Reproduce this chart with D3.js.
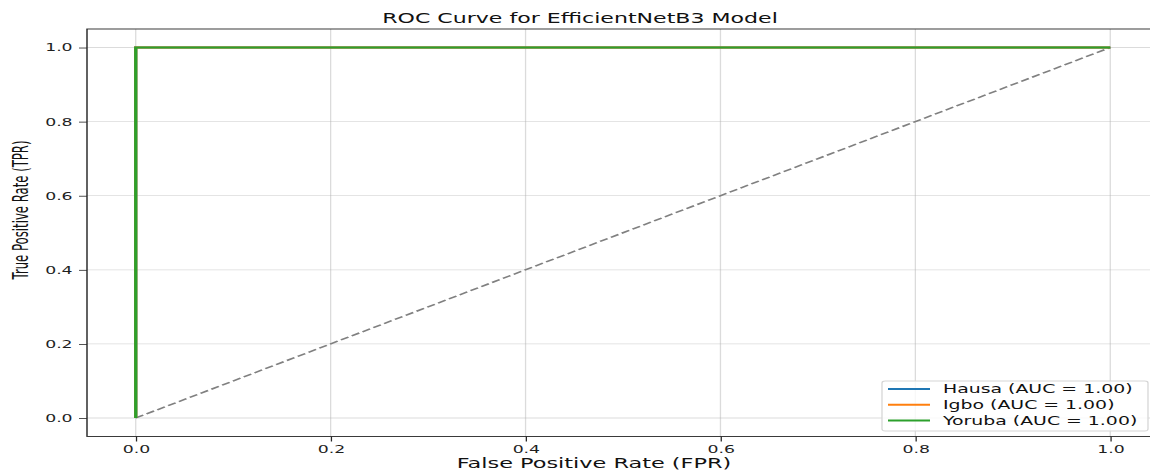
<!DOCTYPE html>
<html>
<head>
<meta charset="utf-8">
<script src="https://cdn.jsdelivr.net/npm/d3@7"></script>
<style>
  html, body { margin: 0; padding: 0; background: #fff; }
  svg { display: block; font-family: "DejaVu Sans", sans-serif; }
</style>
</head>
<body>
<div id="chart"></div>
<script>
// data
var classNames = ["Hausa", "Igbo", "Yoruba"];
var classColors = ["#1f77b4", "#ff7f0e", "#2ca02c"];
var aucValues = [1.00, 1.00, 1.00];
var fprHausa = [0, 0, 1];
var tprHausa = [0, 1, 1];
var fprIgbo = [0, 0, 1];
var tprIgbo = [0, 1, 1];
var fprYoruba = [0, 0, 1];
var tprYoruba = [0, 1, 1];
var chanceLine = [[0, 0], [1, 1]];
var xTicks = [0, 0.2, 0.4, 0.6, 0.8, 1.0];
var yTicks = [0, 0.2, 0.4, 0.6, 0.8, 1.0];

var width = 1150;
var height = 472;
// the figure looks stretched sideways, so everything is drawn in a narrower
// space and then widened
var sx = 1.6;

var curves = [
  {name: classNames[0], color: classColors[0], auc: aucValues[0], fpr: fprHausa, tpr: tprHausa},
  {name: classNames[1], color: classColors[1], auc: aucValues[1], fpr: fprIgbo, tpr: tprIgbo},
  {name: classNames[2], color: classColors[2], auc: aucValues[2], fpr: fprYoruba, tpr: tprYoruba}
];

function buildChart() {
  var svg = d3.create("svg")
      .attr("width", width)
      .attr("height", height);

  var root = svg.append("g")
      .attr("transform", "scale(" + sx + ",1)");

  var left = 87 / sx, right = 1159 / sx, top = 29, bottom = 436.5;

  var x = d3.scaleLinear().domain([-0.05, 1.05]).range([left, right]);
  var y = d3.scaleLinear().domain([-0.05, 1.05]).range([bottom, top]);

  // grid
  var grid = root.append("g")
      .attr("stroke", "#b0b0b0")
      .attr("stroke-opacity", 0.45)
      .attr("stroke-width", 0.8);
  grid.selectAll("line.gx")
    .data(xTicks)
    .join("line")
      .attr("class", "gx")
      .attr("x1", d => x(d)).attr("x2", d => x(d))
      .attr("y1", top).attr("y2", bottom);
  grid.selectAll("line.gy")
    .data(yTicks)
    .join("line")
      .attr("class", "gy")
      .attr("x1", left).attr("x2", right)
      .attr("y1", d => y(d)).attr("y2", d => y(d));

  // chance line
  var line = d3.line().x(d => x(d[0])).y(d => y(d[1]));
  root.append("path")
      .attr("d", line(chanceLine))
      .attr("fill", "none")
      .attr("stroke", "#808080")
      .attr("stroke-width", 1.5)
      .attr("stroke-dasharray", "5.5,2.4");

  // roc curves
  root.append("g")
      .attr("fill", "none")
      .attr("stroke-width", 2)
      .attr("stroke-linejoin", "miter")
    .selectAll("path")
    .data(curves)
    .join("path")
      .attr("stroke", d => d.color)
      .attr("d", d => line(d.fpr.map((v, i) => [v, d.tpr[i]])));

  // spines
  root.append("rect")
      .attr("x", left).attr("y", top)
      .attr("width", right - left).attr("height", bottom - top)
      .attr("fill", "none")
      .attr("stroke", "#262626")
      .attr("stroke-width", 0.9);

  // axes
  var xAxis = root.append("g")
      .attr("transform", "translate(0," + bottom + ")")
      .call(d3.axisBottom(x).tickValues(xTicks).tickFormat(d3.format(".1f")).tickSize(5).tickPadding(4));
  var yAxis = root.append("g")
      .attr("transform", "translate(" + left + ",0)")
      .call(d3.axisLeft(y).tickValues(yTicks).tickFormat(d3.format(".1f")).tickSize(5).tickPadding(4));
  [xAxis, yAxis].forEach(a => {
    a.select(".domain").remove();
    a.selectAll(".tick line").attr("stroke", "#262626").attr("stroke-width", 0.8);
    a.selectAll(".tick text")
        .attr("fill", "#1f1f1f")
        .style("font-family", "DejaVu Sans")
        .style("font-size", "10.8px");
  });

  // title and labels
  root.append("text")
      .attr("x", 580 / sx).attr("y", 23)
      .attr("text-anchor", "middle")
      .attr("fill", "#111")
      .style("font-size", "13.8px")
      .text("ROC Curve for EfficientNetB3 Model");

  root.append("text")
      .attr("x", 594 / sx).attr("y", 468)
      .attr("text-anchor", "middle")
      .attr("fill", "#111")
      .style("font-size", "14px")
      .text("False Positive Rate (FPR)");

  // y label looks condensed in the reference: bigger glyphs squeezed along the line
  root.append("text")
      .attr("transform", "translate(" + (27.5 / sx) + ",210) rotate(-90)")
      .attr("text-anchor", "middle")
      .attr("textLength", 139)
      .attr("lengthAdjust", "spacingAndGlyphs")
      .attr("fill", "#111")
      .style("font-size", "13.5px")
      .text("True Positive Rate (TPR)");

  // legend
  var legend = root.append("g");
  legend.append("rect")
      .attr("x", 882 / sx).attr("y", 381)
      .attr("width", (1148 - 882) / sx).attr("height", 50)
      .attr("rx", 2)
      .attr("fill", "#fff")
      .attr("fill-opacity", 0.8)
      .attr("stroke", "#d6d6d6")
      .attr("stroke-width", 0.8);
  var item = legend.selectAll("g.item")
    .data(curves)
    .join("g")
      .attr("class", "item")
      .attr("transform", (d, i) => "translate(0," + (389 + i * 15.8) + ")");
  item.append("line")
      .attr("x1", 888 / sx).attr("x2", 930 / sx)
      .attr("stroke", d => d.color)
      .attr("stroke-width", 2);
  item.append("text")
      .attr("x", 943 / sx)
      .attr("dy", "0.36em")
      .attr("fill", "#111")
      .style("font-size", "11.8px")
      .text(d => d.name + " (AUC = " + d.auc.toFixed(2) + ")");

  return svg.node();
}

document.getElementById("chart").append(buildChart());
</script>
</body>
</html>
